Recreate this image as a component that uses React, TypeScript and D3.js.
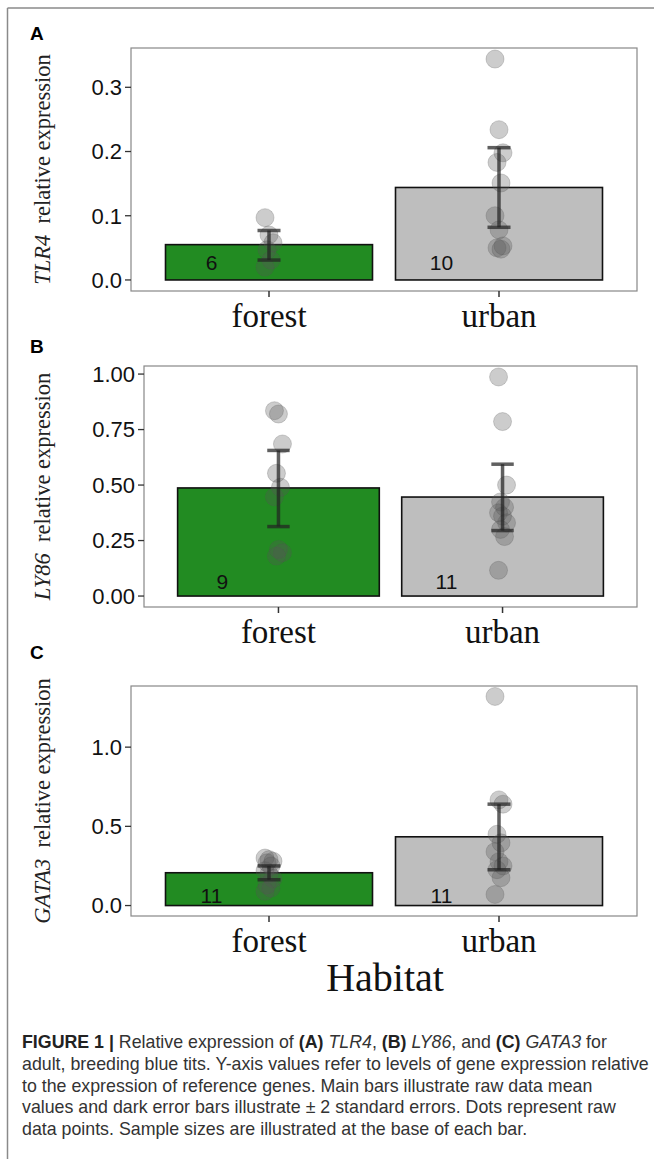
import React from "react";
import * as d3 from "d3";

// categories
const habitats = ["forest", "urban"];
const panelLetters = ["A", "B", "C"];
const genes = ["TLR4", "LY86", "GATA3"];

// TLR4
const tlr4Mean = [0.055, 0.144];
const tlr4Lo = [0.031, 0.082];
const tlr4Hi = [0.077, 0.206];
const tlr4N = [6, 10];
const tlr4Forest = [0.097, 0.07, 0.058, 0.047, 0.031, 0.02];
const tlr4Urban = [0.344, 0.234, 0.198, 0.183, 0.151, 0.1, 0.078, 0.053, 0.05, 0.048];
const tlr4Ticks = [0, 0.1, 0.2, 0.3];

// LY86
const ly86Mean = [0.487, 0.446];
const ly86Lo = [0.313, 0.295];
const ly86Hi = [0.656, 0.594];
const ly86N = [9, 11];
const ly86Forest = [0.835, 0.82, 0.685, 0.553, 0.49, 0.447, 0.21, 0.195, 0.18];
const ly86Urban = [0.987, 0.786, 0.5, 0.424, 0.4, 0.375, 0.36, 0.33, 0.3, 0.268, 0.116];
const ly86Ticks = [0, 0.25, 0.5, 0.75, 1];

// GATA3
const gata3Mean = [0.207, 0.434];
const gata3Lo = [0.163, 0.226];
const gata3Hi = [0.25, 0.64];
const gata3N = [11, 11];
const gata3Forest = [0.3, 0.29, 0.28, 0.27, 0.25, 0.22, 0.2, 0.17, 0.13, 0.11, 0.09];
const gata3Urban = [1.32, 0.667, 0.64, 0.45, 0.396, 0.34, 0.277, 0.25, 0.226, 0.176, 0.07];
const gata3Ticks = [0, 0.5, 1];

const panels = [
  { mean: tlr4Mean, lo: tlr4Lo, hi: tlr4Hi, n: tlr4N, pts: [tlr4Forest, tlr4Urban], ticks: tlr4Ticks, fmt: ".1f", nY: 0.027 },
  { mean: ly86Mean, lo: ly86Lo, hi: ly86Hi, n: ly86N, pts: [ly86Forest, ly86Urban], ticks: ly86Ticks, fmt: ".2f", nY: 0.067 },
  { mean: gata3Mean, lo: gata3Lo, hi: gata3Hi, n: gata3N, pts: [gata3Forest, gata3Urban], ticks: gata3Ticks, fmt: ".1f", nY: 0.063 },
];

// layout of each panel (pixels)
const boxes = [
  { left: 131, top: 48, bottom: 291, letterY: 40 },
  { left: 144, top: 366, bottom: 607, letterY: 353 },
  { left: 131, top: 686, bottom: 916, letterY: 659 },
];
const RIGHT = 637;

const fills = ["#228B22", "#BEBEBE"];
const sans = "'Liberation Sans', Arial, sans-serif";
const serif = "'Liberation Serif', 'Times New Roman', serif";

const jitter = (i: number) => (((i * 7) % 5) - 2) * 2;

function Panel({ p, box, letter, gene }: any) {
  const x = d3.scalePoint().domain(habitats).range([box.left, RIGHT]).padding(0.6);
  const step = x.step();
  const maxV = d3.max(p.pts.flat() as number[]) as number;
  const pad = maxV * 0.05;
  const y = d3.scaleLinear().domain([-pad, maxV + pad]).range([box.bottom, box.top]);
  const fmt = d3.format(p.fmt);
  const bw = step * 0.9;
  const cap = step * 0.05;
  const midY = (box.top + box.bottom) / 2;

  return (
    <g>
      <text x={30} y={box.letterY} fontFamily={sans} fontWeight="bold" fontSize={19}>
        {letter}
      </text>
      <text
        transform={`translate(50,${midY}) rotate(-90)`}
        textAnchor="middle"
        fontFamily={serif}
        fontSize={22.5}
        fill="#222"
      >
        <tspan fontStyle="italic">{gene}</tspan>
        <tspan>{"\u00a0 relative expression"}</tspan>
      </text>
      {/* bars */}
      {habitats.map((h, i) => (
        <rect
          key={h}
          x={(x(h) as number) - bw / 2}
          y={y(p.mean[i])}
          width={bw}
          height={y(0) - y(p.mean[i])}
          fill={fills[i]}
          stroke="#111"
          strokeWidth={1.6}
        />
      ))}
      {/* points */}
      {habitats.map((h, i) =>
        p.pts[i].map((v: number, j: number) => (
          <circle
            key={h + j}
            cx={(x(h) as number) + jitter(j)}
            cy={y(v)}
            r={9}
            fill="#555"
            fillOpacity={0.3}
            stroke="#555"
            strokeOpacity={0.25}
            strokeWidth={1}
          />
        ))
      )}
      {/* error bars */}
      {habitats.map((h, i) => {
        const cx = x(h) as number;
        return (
          <g key={h} stroke="#222" strokeOpacity={0.72} strokeWidth={3.5}>
            <line x1={cx} x2={cx} y1={y(p.hi[i])} y2={y(p.lo[i])} />
            <line x1={cx - cap} x2={cx + cap} y1={y(p.hi[i])} y2={y(p.hi[i])} />
            <line x1={cx - cap} x2={cx + cap} y1={y(p.lo[i])} y2={y(p.lo[i])} />
          </g>
        );
      })}
      {/* sample sizes */}
      {habitats.map((h, i) => (
        <text
          key={h}
          x={(x(h) as number) - step * 0.25}
          y={y(p.nY)}
          dy="0.36em"
          textAnchor="middle"
          fontFamily={sans}
          fontSize={21}
          fill="#111"
        >
          {p.n[i]}
        </text>
      ))}
      {/* panel border */}
      <rect x={box.left} y={box.top} width={RIGHT - box.left} height={box.bottom - box.top} fill="none" stroke="#888" strokeWidth={1.2} />
      {/* y axis */}
      {p.ticks.map((t: number) => (
        <g key={t}>
          <line x1={box.left - 6} x2={box.left} y1={y(t)} y2={y(t)} stroke="#333" strokeWidth={1.3} />
          <text x={box.left - 9} y={y(t)} dy="0.36em" textAnchor="end" fontFamily={sans} fontSize={22} fill="#111">
            {fmt(t)}
          </text>
        </g>
      ))}
      {/* x axis */}
      {habitats.map((h) => (
        <g key={h}>
          <line x1={x(h)} x2={x(h)} y1={box.bottom} y2={box.bottom + 6} stroke="#333" strokeWidth={1.5} />
          <text x={x(h)} y={box.bottom + 36} textAnchor="middle" fontFamily={serif} fontSize={33} fill="#111">
            {h}
          </text>
        </g>
      ))}
    </g>
  );
}

const captionLines = [
  [
    ["FIGURE 1 | ", "b"],
    ["Relative expression of ", ""],
    ["(A)", "b"],
    [" ", ""],
    ["TLR4", "i"],
    [", ", ""],
    ["(B)", "b"],
    [" ", ""],
    ["LY86", "i"],
    [", and ", ""],
    ["(C)", "b"],
    [" ", ""],
    ["GATA3", "i"],
    [" for", ""],
  ],
  [["adult, breeding blue tits. Y-axis values refer to levels of gene expression relative", ""]],
  [["to the expression of reference genes. Main bars illustrate raw data mean", ""]],
  [["values and dark error bars illustrate \u00b1 2 standard errors. Dots represent raw", ""]],
  [["data points. Sample sizes are illustrated at the base of each bar.", ""]],
];

export default function App() {
  return (
    <svg width={654} height={1159} style={{ position: "absolute", left: 0, top: 0, background: "#fff" }}>
      <rect x={0} y={0} width={654} height={1159} fill="#fff" />
      <line x1={7.5} x2={654} y1={8} y2={8} stroke="#8a8a8a" strokeWidth={1.5} />
      <line x1={7.5} x2={7.5} y1={8} y2={1159} stroke="#8a8a8a" strokeWidth={1.5} />
      {panels.map((p, k) => (
        <Panel key={k} p={p} box={boxes[k]} letter={panelLetters[k]} gene={genes[k]} />
      ))}
      <text x={385} y={991} textAnchor="middle" fontFamily={serif} fontSize={40} fill="#111">
        Habitat
      </text>
      {captionLines.map((line, li) => (
        <text key={li} x={22} y={1048 + li * 21.8} fontFamily={sans} fontSize={17.8} fill="#333">
          {line.map(([s, st], si) => (
            <tspan
              key={si}
              fontWeight={st === "b" ? "bold" : "normal"}
              fontStyle={st === "i" ? "italic" : "normal"}
              fill={st === "b" ? "#222" : "#333"}
            >
              {s}
            </tspan>
          ))}
        </text>
      ))}
    </svg>
  );
}
